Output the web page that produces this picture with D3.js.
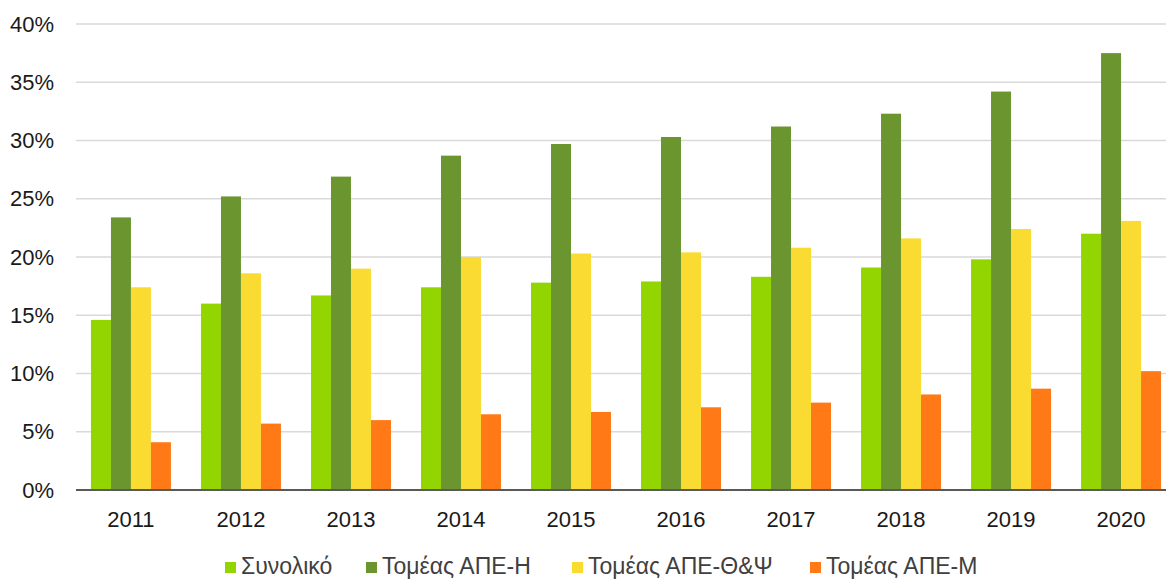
<!DOCTYPE html>
<html>
<head>
<meta charset="utf-8">
<script src="https://cdn.jsdelivr.net/npm/d3@7"></script>
<style>
  body { margin: 0; background: #fff; }
  svg { display: block; font-family: "Liberation Sans", Arial, sans-serif; }
</style>
</head>
<body>
<div id="chart"></div>
<script>
const years = ["2011", "2012", "2013", "2014", "2015", "2016", "2017", "2018", "2019", "2020"];
const seriesNames = ["Συνολικό", "Τομέας ΑΠΕ-Η", "Τομέας ΑΠΕ-Θ&Ψ", "Τομέας ΑΠΕ-Μ"];
const total = [14.6, 16.0, 16.7, 17.4, 17.8, 17.9, 18.3, 19.1, 19.8, 22.0];
const electricity = [23.4, 25.2, 26.9, 28.7, 29.7, 30.3, 31.2, 32.3, 34.2, 37.5];
const heating = [17.4, 18.6, 19.0, 20.0, 20.3, 20.4, 20.8, 21.6, 22.4, 23.1];
const transport = [4.1, 5.7, 6.0, 6.5, 6.7, 7.1, 7.5, 8.2, 8.7, 10.2];
const yTicks = [0, 5, 10, 15, 20, 25, 30, 35, 40];
const colors = ["#93d500", "#6a952f", "#fadb32", "#ff7916"];

const seriesValues = [total, electricity, heating, transport];

const width = 1166, height = 580;
const plot = { left: 76, right: 1176, top: 24, bottom: 490 };

const svg = d3.select("#chart").append("svg")
  .attr("width", width)
  .attr("height", height);

const x = d3.scaleBand().domain(years).range([plot.left, plot.right]).paddingInner(0.273).paddingOuter(0.136);
const x1 = d3.scaleBand().domain(seriesNames).range([0, x.bandwidth()]);
const y = d3.scaleLinear().domain([0, 40]).range([plot.bottom, plot.top]);

// gridlines
svg.append("g")
  .selectAll("line")
  .data(yTicks.filter(d => d > 0))
  .join("line")
  .attr("x1", plot.left).attr("x2", plot.right)
  .attr("y1", d => y(d)).attr("y2", d => y(d))
  .attr("stroke", "#d9d9d9")
  .attr("stroke-width", 1.5);

// y labels
svg.append("g")
  .selectAll("text")
  .data(yTicks)
  .join("text")
  .attr("x", 54)
  .attr("y", d => y(d))
  .attr("dy", "0.35em")
  .attr("text-anchor", "end")
  .attr("font-size", 22)
  .attr("fill", "#1a1a1a")
  .text(d => d + "%");

// bars
const groups = svg.append("g")
  .selectAll("g")
  .data(years)
  .join("g")
  .attr("transform", d => "translate(" + x(d) + ",0)");

groups.selectAll("rect")
  .data((d, i) => seriesNames.map((s, j) => ({ s: s, v: seriesValues[j][i], c: colors[j] })))
  .join("rect")
  .attr("x", d => x1(d.s))
  .attr("width", x1.bandwidth())
  .attr("y", d => y(d.v))
  .attr("height", d => y(0) - y(d.v))
  .attr("fill", d => d.c);

// x axis line
svg.append("line")
  .attr("x1", plot.left).attr("x2", plot.right)
  .attr("y1", plot.bottom).attr("y2", plot.bottom)
  .attr("stroke", "#595959")
  .attr("stroke-width", 2);

// x labels
svg.append("g")
  .selectAll("text")
  .data(years)
  .join("text")
  .attr("x", d => x(d) + x.bandwidth() / 2)
  .attr("y", 527)
  .attr("text-anchor", "middle")
  .attr("font-size", 22)
  .attr("fill", "#1a1a1a")
  .text(d => d);

// legend
const legendX = [225, 366, 572, 810];
const legend = svg.append("g")
  .selectAll("g")
  .data(seriesNames)
  .join("g")
  .attr("transform", (d, i) => "translate(" + legendX[i] + ",574)");

legend.append("rect")
  .attr("x", 0).attr("y", -12)
  .attr("width", 11).attr("height", 11)
  .attr("fill", (d, i) => colors[i]);

legend.append("text")
  .attr("x", 16)
  .attr("y", 0)
  .attr("font-size", 23)
  .attr("fill", "#404040")
  .text(d => d);
</script>
</body>
</html>
